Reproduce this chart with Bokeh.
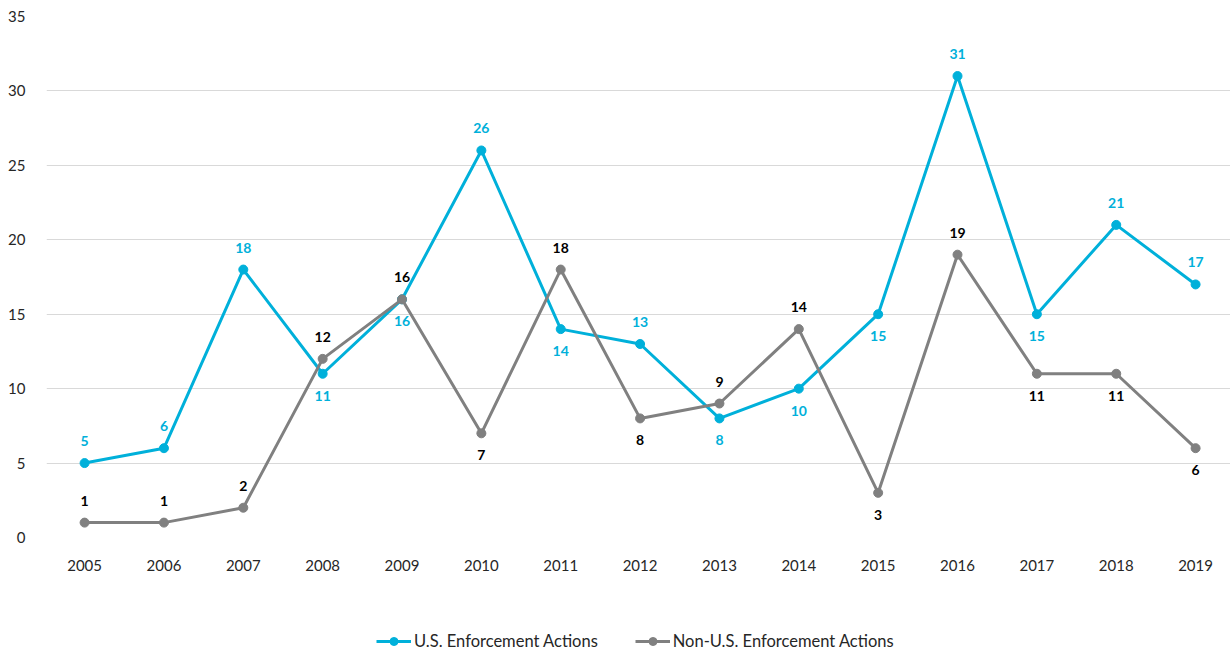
from bokeh.plotting import figure
from bokeh.layouts import column
from bokeh.models import Range1d, FixedTicker, Legend, LegendItem, ColumnDataSource
from bokeh.core.properties import value
from bokeh.embed import file_html
from bokeh.resources import INLINE

years = [2005, 2006, 2007, 2008, 2009, 2010, 2011, 2012, 2013, 2014, 2015, 2016, 2017, 2018, 2019]
us_actions = [5, 6, 18, 11, 16, 26, 14, 13, 8, 10, 15, 31, 15, 21, 17]
non_us_actions = [1, 1, 2, 12, 16, 7, 18, 8, 9, 14, 3, 19, 11, 11, 6]
# label placement: 1 = above point, -1 = below point
us_label_side = [1, 1, 1, -1, -1, 1, -1, 1, -1, -1, -1, 1, -1, 1, 1]
non_us_label_side = [1, 1, 1, 1, 1, -1, 1, -1, 1, 1, -1, 1, -1, -1, -1]
y_ticks = [0, 5, 10, 15, 20, 25, 30, 35]
series_names = ["U.S. Enforcement Actions", "Non-U.S. Enforcement Actions"]

BLUE = "#00B0DA"
GRAY = "#808080"
FONT = "Lato"

p = figure(width=1230, height=600, output_backend="svg", toolbar_location=None,
           x_range=Range1d(2004.52, 2019.44), y_range=Range1d(0, 35),
           min_border_left=46, min_border_right=0, min_border_top=16, min_border_bottom=63)
p.outline_line_color = None
p.background_fill_color = "white"

p.xgrid.grid_line_color = None
p.ygrid.grid_line_color = "#D9D9D9"
p.ygrid.grid_line_width = 1
p.ygrid.ticker = FixedTicker(ticks=y_ticks)

p.yaxis.ticker = FixedTicker(ticks=y_ticks)
p.xaxis.ticker = FixedTicker(ticks=years)
for ax in (p.xaxis, p.yaxis):
    ax.axis_line_color = None
    ax.major_tick_line_color = None
    ax.minor_tick_line_color = None
    ax.major_label_text_font = FONT
    ax.major_label_text_font_size = "15px"
    ax.major_label_text_color = "#262626"
p.yaxis.major_label_standoff = 15
p.xaxis.major_label_standoff = 16

src = ColumnDataSource(dict(
    x=years, us=us_actions, non=non_us_actions,
    us_lbl=[str(v) for v in us_actions], non_lbl=[str(v) for v in non_us_actions],
    us_off=[-22 if s > 0 else 22 for s in us_label_side],
    non_off=[-22 if s > 0 else 22 for s in non_us_label_side],
))

p.line("x", "us", source=src, line_color=BLUE, line_width=3)
p.scatter("x", "us", source=src, size=9, fill_color=BLUE, line_color=BLUE)
p.line("x", "non", source=src, line_color=GRAY, line_width=3)
p.scatter("x", "non", source=src, size=9, fill_color=GRAY, line_color=GRAY)

p.text("x", "us", text="us_lbl", source=src, y_offset="us_off", text_align="center",
       text_baseline="middle", text_font=value(FONT), text_font_style="bold",
       text_font_size="14px", text_color=BLUE)
p.text("x", "non", text="non_lbl", source=src, y_offset="non_off", text_align="center",
       text_baseline="middle", text_font=value(FONT), text_font_style="bold",
       text_font_size="14px", text_color="#000000")

# separate strip for the legend below the chart
lg = figure(width=1230, height=54, output_backend="svg", toolbar_location=None,
            x_range=Range1d(0, 1), y_range=Range1d(0, 1),
            x_axis_type=None, y_axis_type=None,
            min_border_left=0, min_border_right=0, min_border_top=0, min_border_bottom=0)
lg.outline_line_color = None
lg.xgrid.visible = False
lg.ygrid.visible = False
# legend-only renderers placed outside the visible range
dummy = ColumnDataSource(dict(x=[-10, -11], y=[-10, -11]))
l1 = lg.line("x", "y", source=dummy, line_color=BLUE, line_width=3)
m1 = lg.scatter("x", "y", source=dummy, size=9, fill_color=BLUE, line_color=BLUE)
l2 = lg.line("x", "y", source=dummy, line_color=GRAY, line_width=3)
m2 = lg.scatter("x", "y", source=dummy, size=9, fill_color=GRAY, line_color=GRAY)

legend = Legend(items=[LegendItem(label=series_names[0], renderers=[l1, m1]),
                       LegendItem(label=series_names[1], renderers=[l2, m2])],
                orientation="horizontal", location=(330, 3),
                margin=0, padding=0, spacing=37, label_standoff=3,
                glyph_width=35, glyph_height=20, label_height=20,
                label_text_font=FONT, label_text_font_size="16.5px",
                label_text_color="#262626", border_line_color=None,
                background_fill_alpha=0)
lg.add_layout(legend, "center")

layout = column(p, lg, spacing=0)
open("out.html", "w").write(file_html(layout, INLINE))
